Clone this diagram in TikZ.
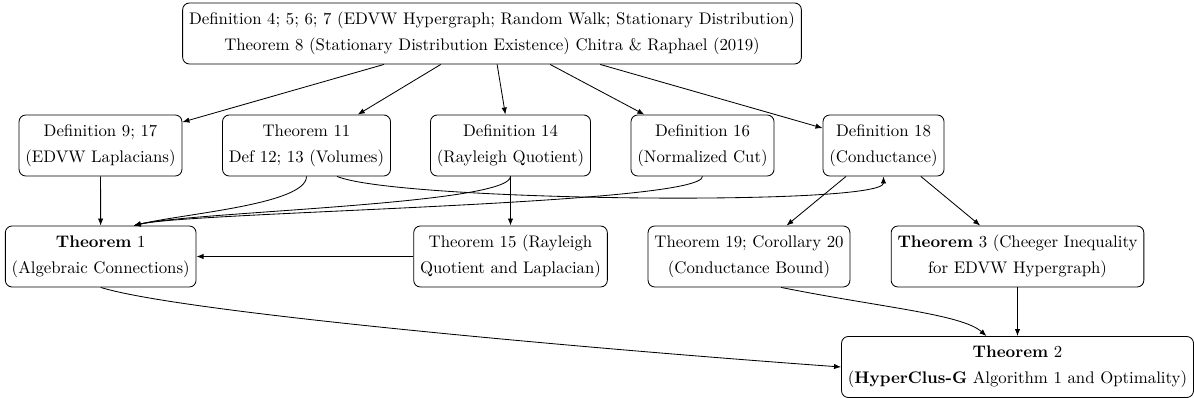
\documentclass[tikz,border=0pt]{standalone}
\usetikzlibrary{arrows.meta,calc}
\begin{document}
\begin{tikzpicture}[x=0.5952pt,y=-0.5952pt,
  box/.style={draw, rounded corners=4pt, align=center, inner xsep=3.8pt, inner ysep=2pt,
    minimum height=36.3pt, font=\fontsize{10}{15.5}\selectfont, line width=0.5pt},
  arr/.style={-{Latex[length=4.2pt,width=3.2pt]}, line width=0.5pt}]
\useasboundingbox (0,0) rectangle (1194,398);

\node[box] (top) at (492,33.5) {Definition 4; 5; 6; 7 (EDVW Hypergraph; Random Walk; Stationary Distribution)\\Theorem 8 (Stationary Distribution Existence) Chitra \& Raphael (2019)};

\node[box] (A) at (100.5,145.5) {Definition 9; 17\\(EDVW Laplacians)};
\node[box] (B) at (306.5,145.5) {Theorem 11\\Def 12; 13 (Volumes)};
\node[box] (C) at (510.5,145.5) {Definition 14\\(Rayleigh Quotient)};
\node[box] (D) at (702.5,145.5) {Definition 16\\(Normalized Cut)};
\node[box] (E) at (883.5,145.5) {Definition 18\\(Conductance)};

\node[box] (F) at (100.7,256.5) {\textbf{Theorem} 1\\(Algebraic Connections)};
\node[box] (G) at (510.5,256.5) {Theorem 15 (Rayleigh\\Quotient and Laplacian)};
\node[box] (H) at (749,256.5) {Theorem 19; Corollary 20\\(Conductance Bound)};
\node[box] (I) at (1017.5,256.5) {\textbf{Theorem} 3 (Cheeger Inequality\\for EDVW Hypergraph)};

\node[box] (J) at (1017.5,367) {\textbf{Theorem} 2\\(\textbf{HyperClus-G} Algorithm 1 and Optimality)};

\draw[arr] (top) -- (A);
\draw[arr] (top) -- (B);
\draw[arr] (top) -- (C);
\draw[arr] (top) -- (D);
\draw[arr] (top) -- (E);

\draw[arr] (A) -- (F);
\draw[arr] (C) -- (G);
\draw[arr] (G) -- (F);
\draw[arr] (E) -- (H);
\draw[arr] (E) -- (I);
\draw[arr] (I) -- (J);

\coordinate (Fin) at ($(F.north)+(33,0)$);
\draw[arr] (B.south) .. controls +(0,28) and +(50,-12) .. (Fin);
\draw[arr] (C.south) .. controls +(0,28) and +(60,-14) .. (Fin);
\draw[arr] (D.south) .. controls +(0,28) and +(60,-14) .. (Fin);

\coordinate (Bout) at ($(B.south)+(30.5,0)$);
\draw[arr] (Bout) .. controls +(60,25) and +(0,30) .. (E.south);

\coordinate (Hout) at ($(H.south)+(32,0)$);
\coordinate (Jin) at ($(J.north)+(-31,0)$);
\draw[arr] (Hout) .. controls +(100,20) and +(-25,-22) .. (Jin);

\draw[arr] (F.south) .. controls +(80,25) and +(-250,-18) .. (J.west);
\end{tikzpicture}
\end{document}
